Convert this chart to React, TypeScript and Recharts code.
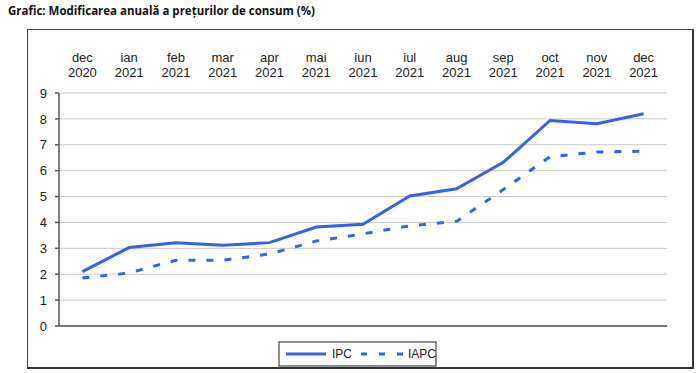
import React from 'react';
import { LineChart, Line, XAxis, YAxis, CartesianGrid } from 'recharts';

const months = ['dec', 'ian', 'feb', 'mar', 'apr', 'mai', 'iun', 'iul', 'aug', 'sep', 'oct', 'nov', 'dec'];
const years = ['2020', '2021', '2021', '2021', '2021', '2021', '2021', '2021', '2021', '2021', '2021', '2021', '2021'];
const ipc = [2.1, 3.03, 3.22, 3.12, 3.22, 3.82, 3.93, 5.02, 5.3, 6.32, 7.94, 7.81, 8.2];
const iapc = [1.85, 2.05, 2.54, 2.54, 2.78, 3.28, 3.56, 3.87, 4.04, 5.27, 6.54, 6.72, 6.75];
const seriesNames = ['IPC', 'IAPC'];
const yTicks = [0, 1, 2, 3, 4, 5, 6, 7, 8, 9];

const data = months.map((m, i) => ({ pos: i + 0.5, month: m, year: years[i], ipc: ipc[i], iapc: iapc[i] }));
const boundaryTicks = Array.from({ length: months.length + 1 }, (_, i) => i);
const centerTicks = data.map((d) => d.pos);

const BLUE = '#3563E4';
const FONT = '"Liberation Sans", Arial, sans-serif';

const TopTick = (props: any) => {
  const { x, y, index } = props;
  return (
    <g>
      <text x={x} y={y - 31} textAnchor="middle" fontSize={13} fontFamily={FONT} fill="#222">{months[index]}</text>
      <text x={x} y={y - 16} textAnchor="middle" fontSize={13} fontFamily={FONT} fill="#222">{years[index]}</text>
    </g>
  );
};

export default function App() {
  return (
    <div style={{ position: 'absolute', left: 0, top: 0, width: 700, height: 373, background: '#fff', overflow: 'hidden' }}>
      <svg width={700} height={30} style={{ position: 'absolute', left: 0, top: 0 }}>
        <text x={8} y={15} fontFamily='"Open Sans", sans-serif' fontWeight={700} fontSize={12} fill="#111" textLength={307} lengthAdjust="spacingAndGlyphs">
          Grafic: Modificarea anuală a prețurilor de consum (%)
        </text>
      </svg>
      <div style={{ position: 'absolute', left: 27, top: 29, width: 664, height: 337, borderTop: '1px solid #444', borderLeft: '1px solid #444', borderRight: '2px solid #333', borderBottom: '2px solid #333' }} />
      <div style={{ position: 'absolute', left: 0, top: 0 }}>
        <LineChart width={700} height={373} data={data} margin={{ top: 53, right: 33, bottom: 37, left: 29 }}>
          <CartesianGrid horizontal vertical={false} stroke="#c9c9c9" strokeWidth={1} />
          <XAxis
            dataKey="pos"
            type="number"
            domain={[0, months.length]}
            ticks={boundaryTicks}
            tick={false}
            tickSize={4}
            height={10}
            axisLine={{ stroke: '#555', strokeWidth: 1.5 }}
            tickLine={{ stroke: '#555', strokeWidth: 1.5 }}
          />
          <XAxis
            xAxisId="top"
            orientation="top"
            dataKey="pos"
            type="number"
            domain={[0, months.length]}
            ticks={centerTicks}
            tick={<TopTick />}
            tickSize={0}
            tickMargin={0}
            height={40}
            axisLine={false}
            tickLine={false}
          />
          <YAxis
            domain={[0, 9]}
            ticks={yTicks}
            width={30}
            tickSize={4}
            tickMargin={8}
            interval={0}
            axisLine={{ stroke: '#555', strokeWidth: 1.5 }}
            tickLine={{ stroke: '#555', strokeWidth: 1.5 }}
            tick={{ fontSize: 13, fontFamily: FONT, fill: '#222' }}
          />
          <Line dataKey="ipc" name={seriesNames[0]} stroke={BLUE} strokeWidth={3} dot={false} isAnimationActive={false} />
          <Line dataKey="iapc" name={seriesNames[1]} stroke={BLUE} strokeWidth={3} strokeDasharray="7 11" dot={false} isAnimationActive={false} />
        </LineChart>
      </div>
      <svg width={160} height={26} style={{ position: 'absolute', left: 278, top: 341 }}>
        <rect x={1} y={1} width={157} height={24} fill="#fff" stroke="#444" strokeWidth={1.2} />
        <line x1={8} x2={48} y1={13} y2={13} stroke={BLUE} strokeWidth={3} />
        <text x={54} y={17} fontSize={12} fontFamily={FONT} fill="#222">{seriesNames[0]}</text>
        <line x1={83} x2={125} y1={13} y2={13} stroke={BLUE} strokeWidth={3} strokeDasharray="6 12" />
        <text x={130} y={17} fontSize={12} fontFamily={FONT} fill="#222">{seriesNames[1]}</text>
      </svg>
    </div>
  );
}
